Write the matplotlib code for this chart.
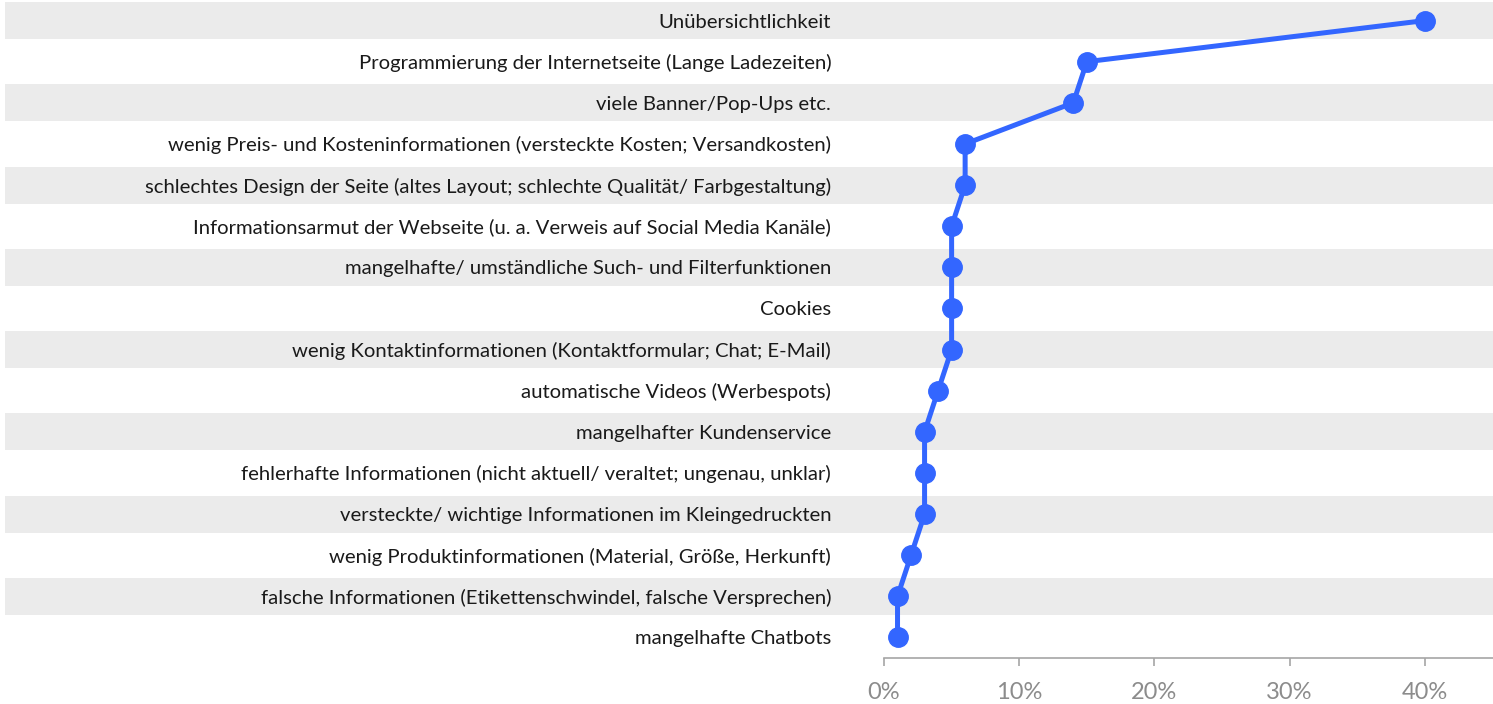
import matplotlib.pyplot as plt
import matplotlib.transforms as mtrans
from matplotlib.patches import Rectangle
from matplotlib.ticker import FuncFormatter

kategorien = [
    "Unübersichtlichkeit",
    "Programmierung der Internetseite (Lange Ladezeiten)",
    "viele Banner/Pop-Ups etc.",
    "wenig Preis- und Kosteninformationen (versteckte Kosten; Versandkosten)",
    "schlechtes Design der Seite (altes Layout; schlechte Qualität/ Farbgestaltung)",
    "Informationsarmut der Webseite (u. a. Verweis auf Social Media Kanäle)",
    "mangelhafte/ umständliche Such- und Filterfunktionen",
    "Cookies",
    "wenig Kontaktinformationen (Kontaktformular; Chat; E-Mail)",
    "automatische Videos (Werbespots)",
    "mangelhafter Kundenservice",
    "fehlerhafte Informationen (nicht aktuell/ veraltet; ungenau, unklar)",
    "versteckte/ wichtige Informationen im Kleingedruckten",
    "wenig Produktinformationen (Material, Größe, Herkunft)",
    "falsche Informationen (Etikettenschwindel, falsche Versprechen)",
    "mangelhafte Chatbots",
]
werte = [40, 15, 14, 6, 6, 5, 5, 5, 5, 4, 3, 3, 3, 2, 1, 1]
xtiks = [0, 10, 20, 30, 40]

plt.rcParams['font.family'] = ['Lato', 'DejaVu Sans']

W, H = 1493, 704
fig = plt.figure(figsize=(W/100, H/100), dpi=100)
ax = fig.add_axes([884/W, 1 - 658/H, 608.5/W, 658/H])

y = list(range(len(kategorien)))

# graue Streifen ueber die ganze Breite
tr = mtrans.blended_transform_factory(fig.transFigure, ax.transData)
for i in y[::2]:
    ax.add_patch(Rectangle((5/W, i - 0.45), (W - 5)/W, 0.9, transform=tr,
                           facecolor='#EBEBEB', edgecolor='none',
                           clip_on=False, zorder=0))

ax.plot(werte, y, color='#3366FF', lw=3.6, marker='o', markersize=14,
        solid_capstyle='round', zorder=3, clip_on=False)

ax.set_xlim(0, 45)
ax.set_ylim(len(kategorien) - 0.5, -0.5)
ax.set_yticks(y)
ax.set_yticklabels(kategorien, fontsize=14.6, color='#1a1a1a')
ax.tick_params(axis='y', length=0, pad=38)
ax.set_xticks(xtiks)
ax.xaxis.set_major_formatter(FuncFormatter(lambda v, p: "%i%%" % v))
ax.tick_params(axis='x', length=6, width=1.2, color='#A6A6A6',
               labelcolor='#8C8C8C', labelsize=17, pad=11)

for s in ('top', 'right', 'left'):
    ax.spines[s].set_visible(False)
ax.spines['bottom'].set_color('#A6A6A6')
ax.spines['bottom'].set_linewidth(1.2)
ax.patch.set_alpha(0)

plt.savefig('out.png', dpi=100)
